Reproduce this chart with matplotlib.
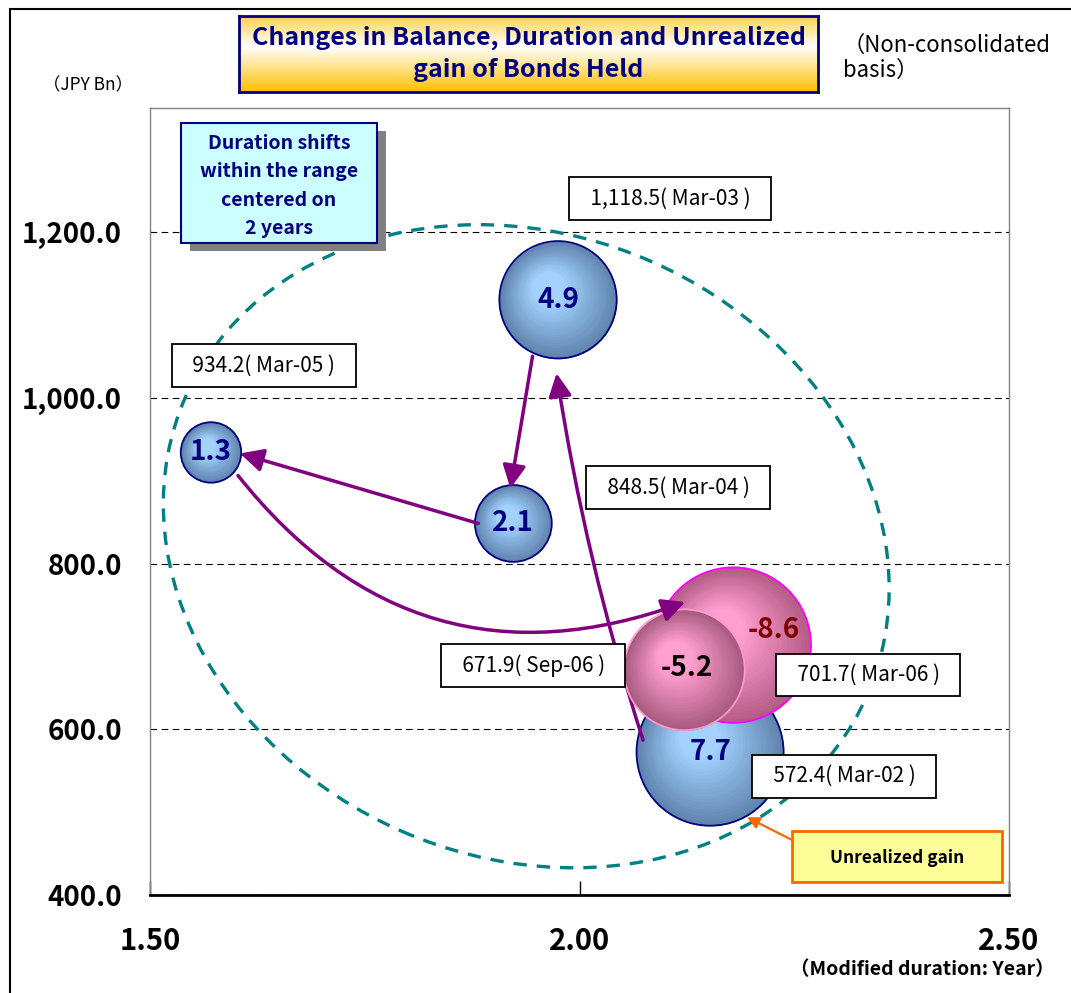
import numpy as np
import matplotlib
matplotlib.use('Agg')
import matplotlib.pyplot as plt
from matplotlib.patches import Rectangle, Ellipse
from matplotlib.transforms import ScaledTranslation
from matplotlib.colors import to_rgb

plt.rcParams['font.family'] = ['Noto Sans CJK JP', 'DejaVu Sans']

# bonds held, non-consolidated
dates = ['Mar-02', 'Mar-03', 'Mar-04', 'Mar-05', 'Mar-06', 'Sep-06']
duration = [2.152, 1.975, 1.923, 1.571, 2.179, 2.122]     # modified duration (yr)
balance = [572.4, 1118.5, 848.5, 934.2, 701.7, 671.9]      # JPY Bn
gain = [7.7, 4.9, 2.1, 1.3, -8.6, -5.2]                    # unrealized gain

yticks = [400, 600, 800, 1000, 1200]
xticks = [1.50, 2.00, 2.50]

W, H = 1071, 993
fig = plt.figure(figsize=(W / 100, H / 100), dpi=100)
ax = fig.add_axes([150 / W, 1 - 895 / H, 859 / W, 787 / H])
ax.set_xlim(1.5, 2.5)
ax.set_ylim(400, 1350)


def px(dx, dy):
    # shift in screen pixels
    return ScaledTranslation(dx / 100, dy / 100, fig.dpi_scale_trans)


def radius(i):
    return 26.5 * np.sqrt(abs(gain[i]))


def bubble(i, z, edge, light, border):
    r = radius(i)
    hx, hy = -0.22 * r, 0.28 * r
    c0, c1 = np.array(to_rgb(edge)), np.array(to_rgb(light))
    n = 28
    for k in range(n):
        f = k / n
        rr = r * (1 - f)
        col = c0 + (c1 - c0) * min(1.0, f * 1.4)
        ax.scatter(duration[i], balance[i], s=(2 * rr * 0.72) ** 2, color=col, lw=0,
                   transform=ax.transData + px(hx * f, hy * f), zorder=z)
    ax.scatter(duration[i], balance[i], s=(2 * r * 0.72) ** 2, facecolor='none',
               edgecolor=border, lw=1.3, zorder=z)


# range of duration, dashed ring
ring = Ellipse((0, 0), 2 * 372, 2 * 311, angle=-23.6, fill=False, ec='#008080',
               lw=2.4, ls=(0, (4, 3)), zorder=1.5,
               transform=ScaledTranslation(1.938, 821, ax.transData))
ax.add_patch(ring)

blue = ('#5f84ae', '#a3d2ff', '#000080')
for i in [0, 1, 2, 3]:
    bubble(i, 2, *blue)
bubble(4, 4, '#b45c86', '#ff9fd0', '#ff00ff')
bubble(5, 5, '#a85a80', '#ff9fd0', '#ff99cc')

# movement between periods: (from, offset, to, offset, curvature)
moves = [(0, (-67, 12), 1, (-1.5, -73.5), -0.04, 3),
         (1, (-25.5, -56.5), 2, (-3, 35), 0.0, 6),
         (2, (-35, 0), 3, (29, -1), 0.0, 6),
         (3, (27, -23), 4, (-48, 43), 0.36, 6)]
for a, oa, b, ob, rad, z in moves:
    ax.annotate('', xy=(duration[b], balance[b]), xycoords=ax.transData + px(*ob),
                xytext=(duration[a], balance[a]), textcoords=ax.transData + px(*oa),
                arrowprops=dict(arrowstyle='-|>,head_length=0.7,head_width=0.35',
                                mutation_scale=20, color='#800080', lw=2.5,
                                shrinkA=0, shrinkB=0,
                                connectionstyle='arc3,rad=%s' % rad),
                zorder=z)

# balance labels
label_off = [(134, -24), (112, 101), (165, 36), (53, 87), (135, -30), (-151, 4)]
for i, (ox, oy) in enumerate(label_off):
    ax.annotate('\u2002{:,.1f}( {} )\u2002'.format(balance[i], dates[i]),
                xy=(duration[i], balance[i]), xytext=(ox, oy),
                textcoords='offset pixels', ha='center', va='center', fontsize=15,
                bbox=dict(boxstyle='square,pad=0.5', fc='white', ec='black', lw=1.3),
                zorder=7)

# gain values inside the bubbles
val_col = ['#000080'] * 4 + ['#800000', 'black']
val_off = [(0, 0)] * 4 + [(40, 15), (2, 2)]
for i in range(len(gain)):
    ax.annotate('{:.1f}'.format(gain[i]), xy=(duration[i], balance[i]),
                xytext=val_off[i], textcoords='offset pixels', ha='center',
                va='center', fontsize=20, fontweight='bold', color=val_col[i],
                zorder=8)

# unrealized gain callout arrow
ax.annotate('', xy=(duration[0], balance[0]), xycoords=ax.transData + px(37, -65),
            xytext=(792 / W, 1 - 840 / H), textcoords='figure fraction',
            arrowprops=dict(arrowstyle='-|>,head_length=0.6,head_width=0.3',
                            mutation_scale=12, color='#ff6600', lw=1.6,
                            shrinkA=0, shrinkB=0),
            zorder=8)

ax.set_yticks(yticks)
ax.set_yticklabels(['{:,.1f}'.format(v) for v in yticks], fontweight='bold')
ax.set_xticks(xticks)
ax.set_xticklabels(['{:.2f}'.format(v) for v in xticks], fontweight='bold')
ax.tick_params(axis='y', length=0, pad=20, labelsize=20)
ax.tick_params(axis='x', direction='in', length=10, width=1, pad=22, labelsize=21)
ax.yaxis.grid(True, ls=(0, (6, 4)), color='black', lw=0.8)
ax.set_axisbelow(True)
for s in ['left', 'top', 'right']:
    ax.spines[s].set_color('#808080')
    ax.spines[s].set_linewidth(1)
ax.spines['bottom'].set_linewidth(2)
ax.set_xlim(1.5, 2.5)
ax.set_ylim(400, 1350)

# title box with gradient fill
tax = fig.add_axes([239 / W, 1 - 92 / H, 579 / W, 76 / H])
stops = np.array([to_rgb('#ffd24d'), to_rgb('#ffffff'), to_rgb('#ffc000')])
t = np.linspace(0, 1, 100)
grad = np.empty((100, 1, 3))
for c in range(3):
    grad[:, 0, c] = np.interp(t, [0, 0.4, 1], stops[:, c])
tax.imshow(grad, aspect='auto', extent=[0, 1, 0, 1])
tax.set_xticks([])
tax.set_yticks([])
for s in tax.spines.values():
    s.set_color('#000080')
    s.set_linewidth(2)
tax.text(0.5, 0.5, 'Changes in Balance, Duration and Unrealized\ngain of Bonds Held',
         ha='center', va='center', fontsize=18, fontweight='bold', color='#000080',
         linespacing=1.4, transform=tax.transAxes)

fig.text(88 / W, 1 - 85 / H, '（JPY Bn）', ha='center', va='center', fontsize=12.5)
fig.text(843 / W, 1 - 58 / H, '（Non-consolidated\nbasis）', ha='left', va='center',
         fontsize=16, linespacing=1.1)
fig.text(1055 / W, 1 - 970 / H, '（Modified duration: Year）', ha='right',
         va='center', fontsize=14, fontweight='bold')

# note box with shadow
fig.add_artist(Rectangle((190 / W, 1 - 251 / H), 196 / W, 120 / H,
                         transform=fig.transFigure, fc='#808080', ec='none', zorder=5))
fig.add_artist(Rectangle((181 / W, 1 - 243 / H), 196 / W, 120 / H,
                         transform=fig.transFigure, fc='#ccffff', ec='#000080',
                         lw=1.5, zorder=5))
fig.text(279 / W, 1 - 186 / H, 'Duration shifts\nwithin the range\ncentered on\n2 years',
         ha='center', va='center', fontsize=14, fontweight='bold', color='#000080',
         linespacing=1.63, zorder=6)

fig.add_artist(Rectangle((792 / W, 1 - 882 / H), 210 / W, 51 / H,
                         transform=fig.transFigure, fc='#ffff99', ec='#ff6600',
                         lw=2, zorder=5))
fig.text(897 / W, 1 - 858 / H, 'Unrealized gain', ha='center', va='center',
         fontsize=12.5, fontweight='bold', zorder=6)

# outer frame
fig.add_artist(Rectangle((10 / W, -0.05), 1.2, 1 - 9 / H + 0.05,
                         transform=fig.transFigure, fill=False, ec='black', lw=1.5))

fig.savefig('out.png', dpi=100)
